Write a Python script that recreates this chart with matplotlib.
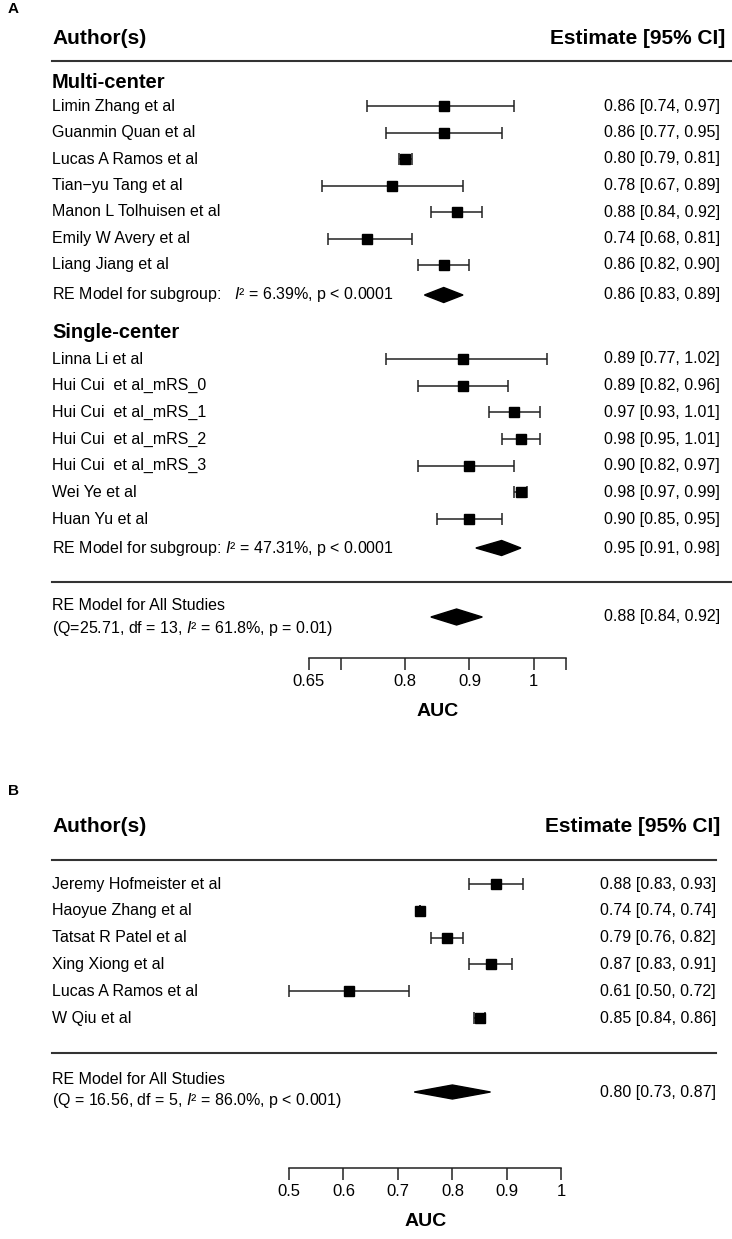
import matplotlib.pyplot as plt
from matplotlib.patches import Polygon

plt.rcParams['font.family'] = ['Liberation Sans', 'DejaVu Sans']
plt.rcParams['mathtext.fontset'] = 'custom'
plt.rcParams['mathtext.rm'] = 'Liberation Sans'
plt.rcParams['mathtext.it'] = 'Liberation Sans:italic'

# ---- panel A data ----
multi_names = ['Limin Zhang et al', 'Guanmin Quan et al', 'Lucas A Ramos et al',
               'Tian\u2212yu Tang et al', 'Manon L Tolhuisen et al',
               'Emily W Avery et al', 'Liang Jiang et al']
multi_est = [0.86, 0.86, 0.80, 0.78, 0.88, 0.74, 0.86]
multi_lo = [0.74, 0.77, 0.79, 0.67, 0.84, 0.68, 0.82]
multi_hi = [0.97, 0.95, 0.81, 0.89, 0.92, 0.81, 0.90]
multi_re = (0.86, 0.83, 0.89)

single_names = ['Linna Li et al', 'Hui Cui  et al_mRS_0', 'Hui Cui  et al_mRS_1',
                'Hui Cui  et al_mRS_2', 'Hui Cui  et al_mRS_3', 'Wei Ye et al',
                'Huan Yu et al']
single_est = [0.89, 0.89, 0.97, 0.98, 0.90, 0.98, 0.90]
single_lo = [0.77, 0.82, 0.93, 0.95, 0.82, 0.97, 0.85]
single_hi = [1.02, 0.96, 1.01, 1.01, 0.97, 0.99, 0.95]
single_re = (0.95, 0.91, 0.98)

all_a = (0.88, 0.84, 0.92)
ticks_a = [0.65, 0.70, 0.8, 0.9, 1.0, 1.05]
ticklabels_a = ['0.65', '', '0.8', '0.9', '1', '']

# ---- panel B data ----
b_names = ['Jeremy Hofmeister et al', 'Haoyue Zhang et al', 'Tatsat R Patel et al',
           'Xing Xiong et al', 'Lucas A Ramos et al', 'W Qiu et al']
b_est = [0.88, 0.74, 0.79, 0.87, 0.61, 0.85]
b_lo = [0.83, 0.74, 0.76, 0.83, 0.50, 0.84]
b_hi = [0.93, 0.74, 0.82, 0.91, 0.72, 0.86]
all_b = (0.80, 0.73, 0.87)
ticks_b = [0.5, 0.6, 0.7, 0.8, 0.9, 1.0]
ticklabels_b = ['0.5', '0.6', '0.7', '0.8', '0.9', '1']

W, H = 732, 1239
fig = plt.figure(figsize=(W / 100, H / 100), dpi=100)
axA = fig.add_axes([0, 0, 1, 1])
axB = fig.add_axes([0, 0, 1, 1])
axB.patch.set_alpha(0)
for ax in (axA, axB):
    ax.set_ylim(H, 0)
    ax.axis('off')
# x limits chosen so that the AUC scale lands where the reference has it
axA.set_xlim(0.65 - 308.7 / 643, 0.65 + (W - 308.7) / 643)
axB.set_xlim(0.5 - 289 / 544.6, 0.5 + (W - 289) / 544.6)

FS = 11.5
LC = '#222222'
I2 = r'$\mathit{I}$²'


def fx(px):
    return px / W


def study(ax, names, est, lo, hi, ys, right):
    for n, e, l, h, y in zip(names, est, lo, hi, ys):
        ax.text(fx(52), y, n, transform=ax.get_yaxis_transform(), ha='left',
                va='center', fontsize=FS)
        ax.errorbar([e], [y], xerr=[[e - l], [h - e]], fmt='s', color='black',
                    ecolor=LC, ms=6.8, elinewidth=1.1, capsize=4, capthick=1.1)
        ax.text(fx(right), y, f'{e:.2f} [{l:.2f}, {h:.2f}]',
                transform=ax.get_yaxis_transform(), ha='right', va='center',
                fontsize=FS)


def diamond(ax, vals, y, hh, right):
    e, l, h = vals
    ax.add_patch(Polygon([(l, y), (e, y - hh), (h, y), (e, y + hh)],
                         closed=True, color='black'))
    ax.text(fx(right), y, f'{e:.2f} [{l:.2f}, {h:.2f}]',
            transform=ax.get_yaxis_transform(), ha='right', va='center',
            fontsize=FS)


def axis(ax, ticks, labels, y, ylab, xauc, yauc):
    ax.plot([ticks[0], ticks[-1]], [y, y], color=LC, lw=1.1)
    ax.vlines(ticks, y, y + 12, color=LC, lw=1.1)
    for t, s in zip(ticks, labels):
        ax.text(t, ylab, s, ha='center', va='center', fontsize=FS + 0.5)
    ax.text(xauc, yauc, 'AUC', ha='center', va='center', fontsize=14,
            fontweight='bold')


# ---- panel A ----
tA = axA.get_yaxis_transform()
axA.text(fx(8), 9, 'A', transform=tA, ha='left', va='center', fontsize=11,
         fontweight='bold')
axA.text(fx(52), 38, 'Author(s)', transform=tA, ha='left', va='center',
         fontsize=15, fontweight='bold')
axA.text(fx(725), 38, 'Estimate [95% CI]', transform=tA, ha='right',
         va='center', fontsize=15, fontweight='bold')
axA.plot([fx(52), 1], [61, 61], transform=tA, color='#333333', lw=1.5)

axA.text(fx(52), 82, 'Multi-center', transform=tA, ha='left', va='center',
         fontsize=14.5, fontweight='bold')
ys_multi = [106 + 26.5 * i for i in range(len(multi_names))]
study(axA, multi_names, multi_est, multi_lo, multi_hi, ys_multi, 720)
axA.text(fx(52), 295, 'RE Model for subgroup:   ' + I2 + ' = 6.39%, p < 0.0001',
         transform=tA, ha='left', va='center', fontsize=FS)
diamond(axA, multi_re, 295, 7.5, 720)

axA.text(fx(52), 333, 'Single-center', transform=tA, ha='left', va='center',
         fontsize=14.5, fontweight='bold')
ys_single = [359 + 26.67 * i for i in range(len(single_names))]
study(axA, single_names, single_est, single_lo, single_hi, ys_single, 720)
axA.text(fx(52), 548, 'RE Model for subgroup: ' + I2 + ' = 47.31%, p < 0.0001',
         transform=tA, ha='left', va='center', fontsize=FS)
diamond(axA, single_re, 548, 7.5, 720)

axA.plot([fx(52), 1], [582, 582], transform=tA, color='#333333', lw=1.5)
axA.text(fx(52), 606, 'RE Model for All Studies', transform=tA, ha='left',
         va='center', fontsize=FS)
axA.text(fx(52), 628, '(Q=25.71, df = 13, ' + I2 + ' = 61.8%, p = 0.01)',
         transform=tA, ha='left', va='center', fontsize=FS)
diamond(axA, all_a, 617, 8, 720)
axis(axA, ticks_a, ticklabels_a, 658, 681, 0.85, 711)

# ---- panel B ----
tB = axB.get_yaxis_transform()
axB.text(fx(8), 791, 'B', transform=tB, ha='left', va='center', fontsize=11,
         fontweight='bold')
axB.text(fx(52), 827, 'Author(s)', transform=tB, ha='left', va='center',
         fontsize=15, fontweight='bold')
axB.text(fx(720), 827, 'Estimate [95% CI]', transform=tB, ha='right',
         va='center', fontsize=15, fontweight='bold')
axB.plot([fx(52), fx(716)], [860, 860], transform=tB, color='#333333', lw=1.5)
ys_b = [884 + 26.8 * i for i in range(len(b_names))]
study(axB, b_names, b_est, b_lo, b_hi, ys_b, 716)
axB.plot([fx(52), fx(716)], [1053, 1053], transform=tB, color='#333333', lw=1.5)
axB.text(fx(52), 1080, 'RE Model for All Studies', transform=tB, ha='left',
         va='center', fontsize=FS)
axB.text(fx(52), 1101, '(Q = 16.56, df = 5, ' + I2 + ' = 86.0%, p < 0.001)',
         transform=tB, ha='left', va='center', fontsize=FS)
diamond(axB, all_b, 1092, 7, 716)
axis(axB, ticks_b, ticklabels_b, 1168, 1191, 0.75, 1222)

fig.savefig('out.png', dpi=100)
